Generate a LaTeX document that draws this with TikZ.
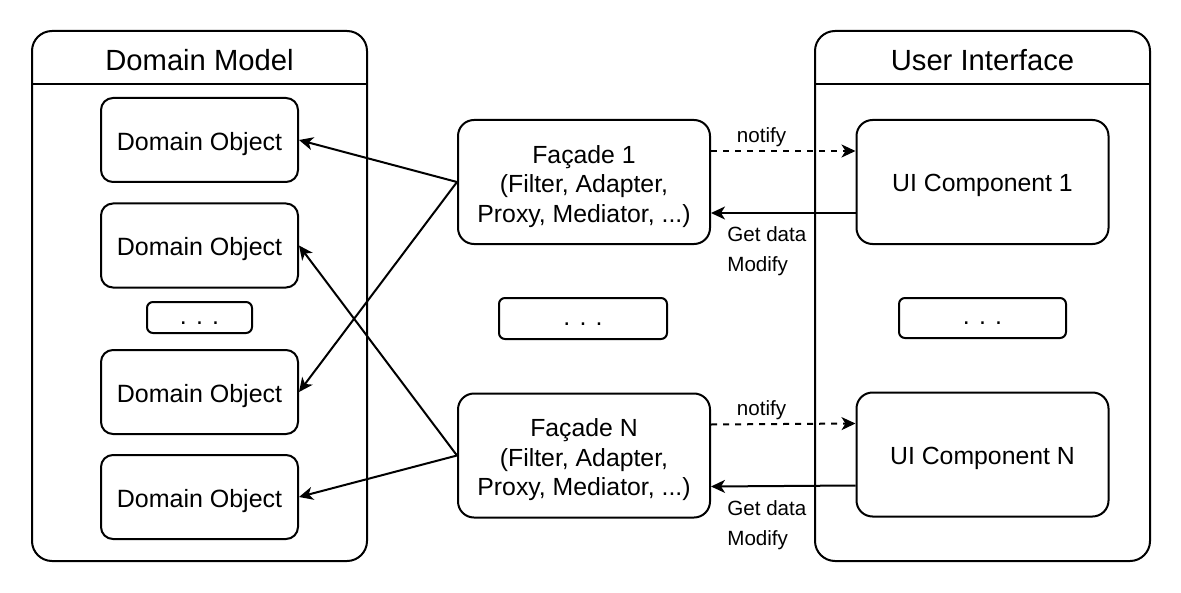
\documentclass[tikz,border=0pt]{standalone}
\usepackage{fontspec}
\setmainfont{Liberation Sans}
\usetikzlibrary{arrows.meta}
\newcommand{\firstline}{\rule{0pt}{13.5pt}}

\begin{document}
\begin{tikzpicture}[x=0.5pt, y=-0.5pt, line width=1pt, >={Stealth[length=7pt, width=6.5pt, inset=2pt]},
  lift/.style={execute at begin node={\rule{0pt}{#1}}},
  group/.style={draw, rounded corners=10pt, minimum width=167.5pt, minimum height=265pt},
  title/.style={font=\fontsize{14.6}{17}\selectfont},
  object/.style={draw, rounded corners=6pt, minimum width=98.5pt, minimum height=42pt, lift=13pt, font=\fontsize{12.5}{15}\selectfont},
  block/.style={draw, rounded corners=8pt, minimum width=126pt, minimum height=62pt, align=center, font=\fontsize{12.4}{14.75}\selectfont},
  dots/.style={draw, rounded corners=3pt, minimum height=15.5pt, inner sep=0pt, text height=6.5pt, text depth=0pt, font=\fontsize{12.5}{15}\selectfont},
  lbl/.style={font=\fontsize{10.3}{15}\selectfont, align=left}]
  \useasboundingbox (0,0) rectangle (1181,593);

  % containers
  \node[group] (DM) at (199.5,296) {};
  \node[group] (UI) at (982.5,296) {};
  \draw ([yshift=-27pt]DM.north west) -- ([yshift=-27pt]DM.north east);
  \draw ([yshift=-27pt]UI.north west) -- ([yshift=-27pt]UI.north east);
  \node[title] (DMt) at (199.5,60) {Domain Model};
  \node[title] (UIt) at (982.5,60) {User Interface};

  % domain objects
  \node[object] (O1) at (199.5,140) {Domain Object};
  \node[object] (O2) at (199.5,245.5) {Domain Object};
  \node[dots, minimum width=52.5pt] (Od) at (199.5,317.5) {. . .};
  \node[object] (O3) at (199.5,392) {Domain Object};
  \node[object] (O4) at (199.5,497) {Domain Object};

  % facades
  \node[block] (F1) at (584,182) {\firstline Façade 1\\(Filter, Adapter,\\Proxy, Mediator, ...)};
  \node[dots, minimum width=84pt, minimum height=20.5pt] (Fd) at (583,318.5) {. . .};
  \node[block] (FN) at (584,455.5) {\firstline Façade N\\(Filter, Adapter,\\Proxy, Mediator, ...)};

  % ui components
  \node[block, lift=12.5pt] (U1) at (982.5,182) {UI Component 1};
  \node[dots, minimum width=83.5pt, minimum height=20pt] (Ud) at (982.5,318) {. . .};
  \node[block, lift=12.5pt] (UN) at (982.5,454.5) {UI Component N};

  \draw[->] (F1.west) -- (O1.east);
  \draw[->] (F1.west) -- (O3.east);
  \draw[->] (FN.west) -- (O2.east);
  \draw[->] (FN.west) -- (O4.east);

  \draw[->, dashed] ([yshift=15.5pt]F1.east) -- node[lbl, above=-1.5pt, pos=0.35] {notify} ([yshift=15.5pt]U1.west);
  \draw[->] ([yshift=-15.5pt]U1.west) -- node[lbl, anchor=north west, pos=0.94, yshift=-3pt] {Get data\\Modify} ([yshift=-15.5pt]F1.east);
  \draw[->, dashed] ([yshift=15.5pt]FN.east) -- node[lbl, above=-1.5pt, pos=0.35] {notify} ([yshift=15.5pt]UN.west);
  \draw[->] ([yshift=-15.5pt]UN.west) -- node[lbl, anchor=north west, pos=0.94, yshift=-3pt] {Get data\\Modify} ([yshift=-15.5pt]FN.east);
\end{tikzpicture}
\end{document}
